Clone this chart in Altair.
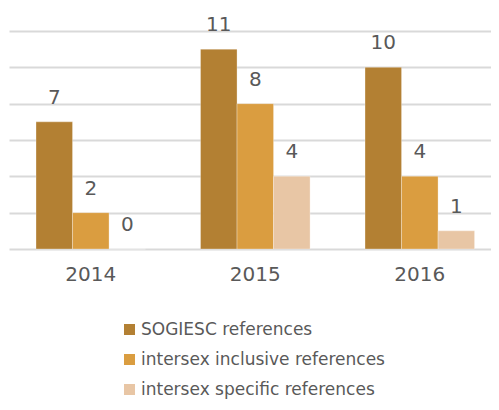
import altair as alt
import pandas as pd

years = ["2014", "2015", "2016"]
series = ["SOGIESC references", "intersex inclusive references", "intersex specific references"]
sogiesc = [7, 11, 10]
inclusive = [2, 8, 4]
specific = [0, 4, 1]
colors = ["#B38033", "#DA9D40", "#E8C6A5"]

rows = []
for name, vals in zip(series, [sogiesc, inclusive, specific]):
    for y, v in zip(years, vals):
        rows.append({"year": y, "series": name, "value": v})
df = pd.DataFrame(rows)

FONT = "DejaVu Sans"
TXT = "#595959"

x = alt.X("year:N", sort=years,
          scale=alt.Scale(paddingInner=0.334, paddingOuter=0.132, align=0.622),
          axis=alt.Axis(title=None, labelAngle=0, domain=False, ticks=False,
                        labelFontSize=20, labelFont=FONT, labelColor=TXT,
                        labelPadding=15))
xo = alt.XOffset("series:N", sort=series, scale=alt.Scale(paddingInner=0, paddingOuter=0))
y = alt.Y("value:Q", scale=alt.Scale(domain=[0, 12], nice=False),
          axis=alt.Axis(title=None, labels=False, domain=False, ticks=False,
                        values=[0, 2, 4, 6, 8, 10, 12], gridColor="#D9D9D9", gridWidth=2))

color = alt.Color("series:N", sort=series,
                  scale=alt.Scale(domain=series, range=colors),
                  legend=alt.Legend(title=None, orient="none", legendX=112, legendY=290,
                                    direction="vertical", symbolType="square", symbolSize=121,
                                    symbolStrokeWidth=0, labelFontSize=17, labelFont=FONT,
                                    labelColor=TXT, rowPadding=12, labelOffset=3,
                                    padding=0, labelLimit=400))

bars = alt.Chart(df).mark_bar(stroke="white", strokeWidth=0.5, strokeOpacity=0.6).encode(
    x=x, xOffset=xo, y=y, color=color)

labels = alt.Chart(df).mark_text(fontSize=20, font=FONT, color=TXT, baseline="alphabetic", dy=-18).encode(
    x=x, xOffset=xo, y=y, text="value:Q")

chart = (bars + labels).properties(
    width=482, height=218,
    autosize=alt.AutoSizeParams(type="none"),
    padding={"left": 1, "top": 23, "right": 0, "bottom": 153},
).configure_view(strokeWidth=0)

chart.save("out.html", embed_options={"renderer": "svg", "actions": False})
